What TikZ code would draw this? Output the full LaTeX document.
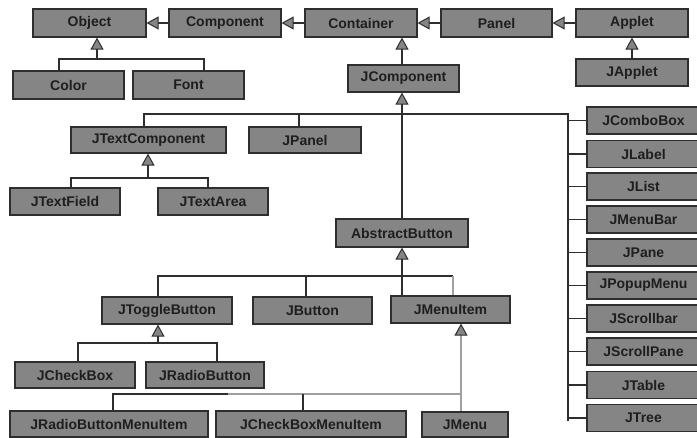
\documentclass[tikz,border=0pt]{standalone}
\usepackage{fontspec}
\setmainfont{Liberation Sans}
\usetikzlibrary{arrows.meta}
\definecolor{boxfill}{HTML}{858585}
\definecolor{boxline}{HTML}{2E2E2E}
\definecolor{txt}{HTML}{1E1E1E}
\definecolor{lgray}{HTML}{A0A0A0}
\tikzset{
  cls/.style={draw=boxline, line width=1.2pt, fill=boxfill, text=txt, inner sep=0pt,
    font=\bfseries\fontsize{14}{16}\selectfont},
  conn/.style={draw=boxline, line width=1.1pt},
  lconn/.style={draw=lgray, line width=1.1pt},
  inh/.style={conn, -{Triangle[length=12pt,width=13pt,fill=boxfill,line width=1pt]}},
  linh/.style={lconn, -{Triangle[length=12pt,width=13pt,fill=boxfill,color=boxline,line width=1pt]}},
}
\begin{document}
\begin{tikzpicture}[x=1pt,y=-1pt]
\useasboundingbox (0,0) rectangle (697,438);
% top row
\node[cls, minimum width=113pt, minimum height=28pt] (Object) at (89.5,23) {Object};
\node[cls, minimum width=112pt, minimum height=28pt] (Component) at (225,23) {Component};
\node[cls, minimum width=112pt, minimum height=28pt] (Container) at (361,23) {Container};
\node[cls, minimum width=111pt, minimum height=28pt] (Panel) at (496.5,23) {Panel};
\node[cls, minimum width=112pt, minimum height=28pt] (Applet) at (632,23) {Applet};
\node[cls, minimum width=112pt, minimum height=27pt] (JApplet) at (632,72.5) {JApplet};
\node[cls, minimum width=111pt, minimum height=27pt] (JComponent) at (403.5,78.5) {JComponent};
\node[cls, minimum width=111pt, minimum height=28pt] (Color) at (68.5,85) {Color};
\node[cls, minimum width=111pt, minimum height=28pt] (Font) at (188.5,85) {Font};
% second level
\node[cls, minimum width=155pt, minimum height=26pt] (JTextComponent) at (148.5,140) {JTextComponent};
\node[cls, minimum width=112pt, minimum height=26pt] (JPanel) at (305,140) {JPanel};
\node[cls, minimum width=110pt, minimum height=27pt] (JTextField) at (65,201.5) {JTextField};
\node[cls, minimum width=110pt, minimum height=27pt] (JTextArea) at (213,201.5) {JTextArea};
\node[cls, minimum width=132pt, minimum height=28pt] (AbstractButton) at (402,233) {AbstractButton};
\node[cls, minimum width=130pt, minimum height=27pt] (JToggleButton) at (167,310.5) {JToggleButton};
\node[cls, minimum width=119pt, minimum height=27pt] (JButton) at (312.5,310.5) {JButton};
\node[cls, minimum width=119pt, minimum height=27pt] (JMenuItem) at (450.5,309.5) {JMenuItem};
\node[cls, minimum width=120pt, minimum height=26pt] (JCheckBox) at (75,375) {JCheckBox};
\node[cls, minimum width=118pt, minimum height=26pt] (JRadioButton) at (205,375) {JRadioButton};
\node[cls, minimum width=198pt, minimum height=26pt] (JRadioButtonMenuItem) at (109,424) {JRadioButtonMenuItem};
\node[cls, minimum width=190pt, minimum height=26pt] (JCheckBoxMenuItem) at (311,424) {JCheckBoxMenuItem};
\node[cls, minimum width=86pt, minimum height=25pt] (JMenu) at (465,424.5) {JMenu};
% right column
\node[cls, minimum width=113pt, minimum height=27pt] (JComboBox) at (643.5,120.5) {JComboBox};
\node[cls, minimum width=113pt, minimum height=27pt] (JLabel) at (643.5,154) {JLabel};
\node[cls, minimum width=113pt, minimum height=27pt] (JList) at (643.5,186.5) {JList};
\node[cls, minimum width=113pt, minimum height=27pt] (JMenuBar) at (643.5,219.5) {JMenuBar};
\node[cls, minimum width=113pt, minimum height=27pt] (JPane) at (643.5,252.5) {JPane};
\node[cls, minimum width=113pt, minimum height=27pt] (JPopupMenu) at (643.5,285.5) {JPopupMenu};
\node[cls, minimum width=113pt, minimum height=27pt] (JScrollbar) at (643.5,318.5) {JScrollbar};
\node[cls, minimum width=113pt, minimum height=27pt] (JScrollPane) at (643.5,351.5) {JScrollPane};
\node[cls, minimum width=113pt, minimum height=27pt] (JTable) at (643.5,385) {JTable};
\node[cls, minimum width=113pt, minimum height=27pt] (JTree) at (643.5,418) {JTree};

% top row inheritance
\draw[inh] (Component.west) -- (Object.east);
\draw[inh] (Container.west) -- (Component.east);
\draw[inh] (Panel.west) -- (Container.east);
\draw[inh] (Applet.west) -- (Panel.east);
\draw[inh] (JApplet.north) -- (Applet.south);
\draw[inh] ([xshift=-1.5pt]JComponent.north) -- ([xshift=-1.5pt]JComponent.north |- Container.south);

% Object children
\coordinate (objbus) at (97,59);
\draw[conn] ([xshift=-9.5pt]Color.north) |- (objbus) -| ([xshift=15.5pt]Font.north);
\draw[inh] (objbus) -- (objbus |- Object.south);

% JComponent children
\coordinate (busx) at (568,114);
\coordinate (busend) at (568,421);
\draw[conn] ([xshift=-4.5pt]JTextComponent.north) |- (busx) -- (busend);
\draw[conn] ([xshift=-6pt]JPanel.north) -- ([xshift=-6pt]JPanel.north |- busx);
\draw[inh] (AbstractButton.north) -- (AbstractButton.north |- JComponent.south);
\foreach \n in {JComboBox,JLabel,JList,JMenuBar,JPane,JPopupMenu,JScrollbar,JScrollPane,JTable,JTree}
  \draw[conn] (\n.west -| busx) -- (\n.west);

% JTextComponent children
\coordinate (tcbus) at (148,178);
\draw[conn] ([xshift=6pt]JTextField.north) |- (tcbus) -| ([xshift=-5pt]JTextArea.north);
\draw[inh] (tcbus) -- (tcbus |- JTextComponent.south);

% AbstractButton children
\coordinate (abbus) at (306,276);
\coordinate (abend) at (453,276);
\draw[conn] ([xshift=-9pt]JToggleButton.north) |- (abbus) -- ([xshift=-6.5pt]JButton.north);
\draw[conn] (abbus) -- (abend);
\draw[lconn] (abend) -- ([xshift=2.5pt]JMenuItem.north);
\draw[inh] ([xshift=-48.5pt]JMenuItem.north) -- ([xshift=-48.5pt]JMenuItem.north |- AbstractButton.south);

% JToggleButton children
\coordinate (tbbus) at (158,343);
\draw[conn] ([xshift=3pt]JCheckBox.north) |- (tbbus) -| ([xshift=12pt]JRadioButton.north);
\draw[inh] (tbbus) -- (tbbus |- JToggleButton.south);

% JMenuItem children
\coordinate (mibus) at (461,394);
\coordinate (mimid) at (228,394);
\draw[conn] ([xshift=4pt]JRadioButtonMenuItem.north) |- (mimid);
\draw[lconn] (mimid) -- (mibus);
\draw[conn] ([xshift=-8pt]JCheckBoxMenuItem.north) -- ([xshift=-8pt]JCheckBoxMenuItem.north |- mibus);
\draw[lconn] ([xshift=-4pt]JMenu.north) -- (mibus);
\draw[linh] (mibus) -- (mibus |- JMenuItem.south);
\end{tikzpicture}
\end{document}
